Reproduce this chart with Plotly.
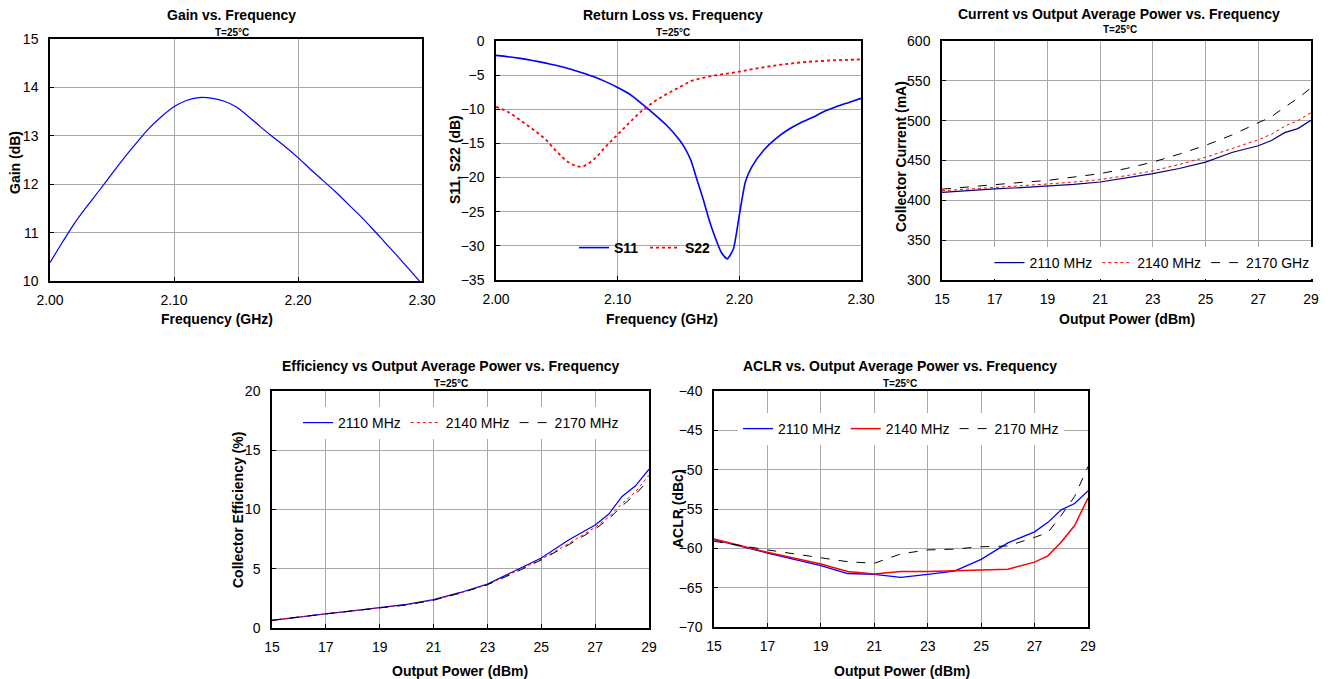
import plotly.graph_objects as go

W, H = 1328, 679
FONT = "Liberation Sans, Arial, sans-serif"

# ---- Gain vs. Frequency ----
gain_freq = [2.00, 2.01, 2.02, 2.03, 2.04, 2.05, 2.06, 2.07, 2.08, 2.09, 2.10,
             2.11, 2.12, 2.13, 2.14, 2.15, 2.16, 2.17, 2.18, 2.19, 2.20,
             2.21, 2.22, 2.23, 2.24, 2.25, 2.26, 2.27, 2.28, 2.29, 2.30]
gain_db = [10.38, 10.80, 11.20, 11.55, 11.88, 12.22, 12.55, 12.86, 13.16, 13.40, 13.60,
           13.73, 13.79, 13.78, 13.72, 13.60, 13.40, 13.18, 12.97, 12.77, 12.55,
           12.31, 12.08, 11.85, 11.60, 11.35, 11.08, 10.80, 10.52, 10.23, 9.94]

# ---- Return loss ----
s11_freq = [2.000, 2.010, 2.020, 2.030, 2.040, 2.050, 2.060, 2.070, 2.080, 2.090, 2.100,
            2.110, 2.120, 2.130, 2.140, 2.150, 2.155, 2.160, 2.165, 2.170, 2.175,
            2.180, 2.185, 2.190, 2.195, 2.200, 2.205, 2.210, 2.220, 2.230, 2.240,
            2.250, 2.260, 2.270, 2.280, 2.290, 2.300]
s11_db = [-2.1, -2.3, -2.55, -2.85, -3.2, -3.6, -4.05, -4.6, -5.2, -5.95, -6.8,
          -7.8, -9.2, -10.7, -12.3, -14.3, -15.6, -17.4, -20.2, -23.0, -26.1,
          -28.7, -30.9, -31.9, -30.5, -25.5, -20.6, -18.5, -16.0, -14.3, -13.0,
          -12.0, -11.2, -10.3, -9.6, -9.0, -8.4]
s22_freq = [2.00, 2.01, 2.02, 2.03, 2.04, 2.05, 2.06, 2.07, 2.08, 2.09, 2.10,
            2.11, 2.12, 2.13, 2.14, 2.15, 2.16, 2.17, 2.18, 2.19, 2.20,
            2.21, 2.22, 2.23, 2.24, 2.25, 2.26, 2.27, 2.28, 2.29, 2.30]
s22_db = [-9.65, -10.4, -11.6, -12.9, -14.3, -16.2, -17.8, -18.4, -17.4, -15.5, -13.7,
          -11.9, -10.2, -8.9, -7.8, -6.85, -5.9, -5.4, -5.05, -4.77, -4.5,
          -4.15, -3.85, -3.58, -3.35, -3.15, -3.0, -2.9, -2.8, -2.75, -2.7]

# ---- Collector current / efficiency vs. output power ----
pout_dbm = [15, 16, 17, 18, 19, 20, 21, 22, 23, 24, 25, 26, 27, 27.5, 28, 28.5, 29]
icc_2110 = [410, 412.5, 414.5, 416, 418, 420, 423, 428, 433.5, 440, 448, 460, 468.5, 475, 485, 490, 500.5]
icc_2140 = [412, 414, 416, 418, 420.5, 423, 426, 431, 437, 445, 454, 465, 476, 483, 493, 500, 510]
icc_2170 = [414, 417, 420, 422.5, 425, 429, 433.5, 440, 448, 458, 469, 482, 497, 505, 517, 528, 541]

eff_2110 = [0.65, 0.95, 1.2, 1.45, 1.7, 2.0, 2.4, 3.0, 3.7, 4.8, 5.9, 7.4, 8.7, 9.6, 11.1, 12.0, 13.4]
eff_2140 = [0.65, 0.95, 1.2, 1.45, 1.7, 1.95, 2.35, 2.95, 3.65, 4.7, 5.8, 7.1, 8.5, 9.35, 10.5, 11.5, 12.9]
eff_2170 = [0.65, 0.95, 1.2, 1.45, 1.7, 1.95, 2.35, 2.95, 3.65, 4.65, 5.75, 7.0, 8.35, 9.2, 10.3, 11.3, 12.5]

# ---- ACLR vs. output power ----
aclr_pout = [15, 17, 19, 20, 21, 22, 23, 24, 25, 26, 27, 27.5, 28, 28.5, 29]
aclr_2110 = [-58.9, -60.6, -62.2, -63.2, -63.3, -63.7, -63.3, -62.9, -61.4, -59.3, -57.9, -56.7, -55.1, -54.3, -52.7]
aclr_2140 = [-58.8, -60.5, -62.0, -62.95, -63.25, -62.95, -62.95, -62.85, -62.8, -62.65, -61.75, -60.95, -59.2, -57.1, -53.6]
aclr_2170 = [-59.1, -60.2, -61.2, -61.7, -61.9, -60.7, -60.2, -60.1, -59.8, -59.7, -58.6, -58.0, -55.8, -53.4, -49.6]

freq_ticks = [2.00, 2.10, 2.20, 2.30]
freq_ticktext = ["2.00", "2.10", "2.20", "2.30"]
pout_ticks = [15, 17, 19, 21, 23, 25, 27, 29]


def px_dom_x(a, b):
    return [a / W, b / W]


def px_dom_y(top, bottom):
    return [1 - bottom / H, 1 - top / H]


fig = go.Figure()

# Gain
fig.add_trace(go.Scatter(x=gain_freq, y=gain_db, mode="lines", line=dict(color="#0000ff", width=1.2, shape="spline"),
                         showlegend=False, xaxis="x", yaxis="y"))
# Return loss
fig.add_trace(go.Scatter(x=s11_freq, y=s11_db, mode="lines", name="S11",
                         line=dict(color="#0000ff", width=1.6, shape="spline", smoothing=0.6),
                         xaxis="x2", yaxis="y2", legend="legend"))
fig.add_trace(go.Scatter(x=s22_freq, y=s22_db, mode="lines", name="S22",
                         line=dict(color="#ff0000", width=1.8, dash="dot", shape="spline"),
                         xaxis="x2", yaxis="y2", legend="legend"))
# Current
fig.add_trace(go.Scatter(x=pout_dbm, y=icc_2110, mode="lines", name="2110 MHz",
                         line=dict(color="#000080", width=1.2), xaxis="x3", yaxis="y3", legend="legend2"))
fig.add_trace(go.Scatter(x=pout_dbm, y=icc_2140, mode="lines", name="2140 MHz",
                         line=dict(color="#ff0000", width=1, dash="dot"), xaxis="x3", yaxis="y3", legend="legend2"))
fig.add_trace(go.Scatter(x=pout_dbm, y=icc_2170, mode="lines", name="2170 GHz",
                         line=dict(color="#000000", width=1, dash="dash"), xaxis="x3", yaxis="y3", legend="legend2"))
# Efficiency
fig.add_trace(go.Scatter(x=pout_dbm, y=eff_2110, mode="lines", name="2110 MHz",
                         line=dict(color="#0000ff", width=1.2), xaxis="x4", yaxis="y4", legend="legend3"))
fig.add_trace(go.Scatter(x=pout_dbm, y=eff_2140, mode="lines", name="2140 MHz",
                         line=dict(color="#ff0000", width=1, dash="dot"), xaxis="x4", yaxis="y4", legend="legend3"))
fig.add_trace(go.Scatter(x=pout_dbm, y=eff_2170, mode="lines", name="2170 MHz",
                         line=dict(color="#000000", width=1, dash="dash"), xaxis="x4", yaxis="y4", legend="legend3"))
# ACLR
fig.add_trace(go.Scatter(x=aclr_pout, y=aclr_2110, mode="lines", name="2110 MHz",
                         line=dict(color="#0000ff", width=1.3), xaxis="x5", yaxis="y5", legend="legend4"))
fig.add_trace(go.Scatter(x=aclr_pout, y=aclr_2140, mode="lines", name="2140 MHz",
                         line=dict(color="#ff0000", width=1.5), xaxis="x5", yaxis="y5", legend="legend4"))
fig.add_trace(go.Scatter(x=aclr_pout, y=aclr_2170, mode="lines", name="2170 MHz",
                         line=dict(color="#000000", width=1, dash="dash"), xaxis="x5", yaxis="y5", legend="legend4"))

tickfont = dict(family=FONT, size=14, color="#000000")
common = dict(showgrid=True, gridcolor="#a8a8a8", gridwidth=1, showline=True, linecolor="#000000",
              linewidth=1.5, mirror=True, zeroline=False, tickfont=tickfont, fixedrange=True,
              ticks="inside", ticklen=4, tickcolor="#000000")
xcommon = dict(common, ticklabelstandoff=5)
ycommon = dict(common, ticklabelstandoff=7)

panels = {
    1: dict(x=(50, 422), y=(39, 281)),
    2: dict(x=(496, 861), y=(41, 280)),
    3: dict(x=(942, 1311), y=(41, 280)),
    4: dict(x=(272, 649), y=(391, 628)),
    5: dict(x=(714, 1088), y=(391, 627)),
}

layout = dict(
    width=W, height=H, margin=dict(l=0, r=0, t=0, b=0, autoexpand=False),
    paper_bgcolor="#ffffff", plot_bgcolor="#ffffff",
    font=dict(family=FONT, color="#000000"),
)

xcfg = {
    1: dict(range=[2.0, 2.3], tickvals=freq_ticks, ticktext=freq_ticktext),
    2: dict(range=[2.0, 2.3], tickvals=freq_ticks, ticktext=freq_ticktext),
    3: dict(range=[15, 29], tickvals=pout_ticks),
    4: dict(range=[15, 29], tickvals=pout_ticks),
    5: dict(range=[15, 29], tickvals=pout_ticks),
}
ycfg = {
    1: dict(range=[10, 15], dtick=1),
    2: dict(range=[-35, 0], dtick=5),
    3: dict(range=[300, 600], dtick=50),
    4: dict(range=[0, 20], dtick=5),
    5: dict(range=[-70, -40], dtick=5),
}

for i, p in panels.items():
    xa = "xaxis" if i == 1 else f"xaxis{i}"
    ya = "yaxis" if i == 1 else f"yaxis{i}"
    layout[xa] = dict(xcommon, domain=px_dom_x(*p["x"]), anchor="y" if i == 1 else f"y{i}", **xcfg[i])
    layout[ya] = dict(ycommon, domain=px_dom_y(*p["y"]), anchor="x" if i == 1 else f"x{i}", **ycfg[i])

legfont = dict(family=FONT, size=14, color="#000000")
legbase = dict(xanchor="center", yanchor="middle", orientation="h", bgcolor="#ffffff", itemwidth=30)
# S11/S22 key sits on a clear strip so the S11 notch beside it stays visible
layout["legend"] = dict(legbase, x=645 / W, y=1 - 248 / H, entrywidthmode="pixels", entrywidth=26,
                        bgcolor="rgba(0,0,0,0)",
                        font=dict(family=FONT, size=14, color="#000000", weight="bold"))
layout["legend2"] = dict(legbase, x=1152 / W, y=1 - 263 / H, font=legfont)
layout["legend3"] = dict(legbase, x=461 / W, y=1 - 423 / H, font=legfont)
layout["legend4"] = dict(legbase, x=901 / W, y=1 - 429 / H, font=legfont)

layout["shapes"] = [
    dict(type="rect", xref="paper", yref="paper", layer="between",
         x0=586 / W, x1=706 / W, y0=1 - 256 / H, y1=1 - 240 / H,
         fillcolor="#ffffff", line=dict(width=0)),
]

annotations = []


def text(x, y, s, size, bold=True, angle=0):
    annotations.append(dict(x=x / W, y=1 - y / H, xref="paper", yref="paper", text=s, showarrow=False,
                            xanchor="center", yanchor="middle", textangle=angle,
                            font=dict(family=FONT, size=size, color="#000000", weight="bold" if bold else "normal")))


titles = [
    (231, 15, "Gain vs. Frequency", 232, 32),
    (673, 15, "Return Loss vs. Frequency", 673, 32),
    (1119, 14, "Current vs Output Average Power vs. Frequency", 1120, 30),
    (451, 366, "Efficiency vs Output Average Power vs. Frequency", 451, 383),
    (900, 366, "ACLR vs. Output Average Power vs. Frequency", 900, 383),
]
for tx, ty, s, sx, sy in titles:
    text(tx, ty, s, 14)
    text(sx, sy, "T=25°C", 10)

# axis titles
text(217, 319, "Frequency (GHz)", 14)
text(662, 319, "Frequency (GHz)", 14)
text(1127, 319, "Output Power (dBm)", 14)
text(460, 671, "Output Power (dBm)", 14)
text(902, 671, "Output Power (dBm)", 14)
text(15, 163, "Gain (dB)", 14, angle=-90)
text(455, 160, "S11, S22 (dB)", 14, angle=-90)
text(901, 157, "Collector Current (mA)", 14, angle=-90)
text(238, 510, "Collector Efficiency (%)", 14, angle=-90)
text(678, 509, "ACLR (dBc)", 14, angle=-90)

layout["annotations"] = annotations
fig.update_layout(**layout)
fig.write_html("out.html")
